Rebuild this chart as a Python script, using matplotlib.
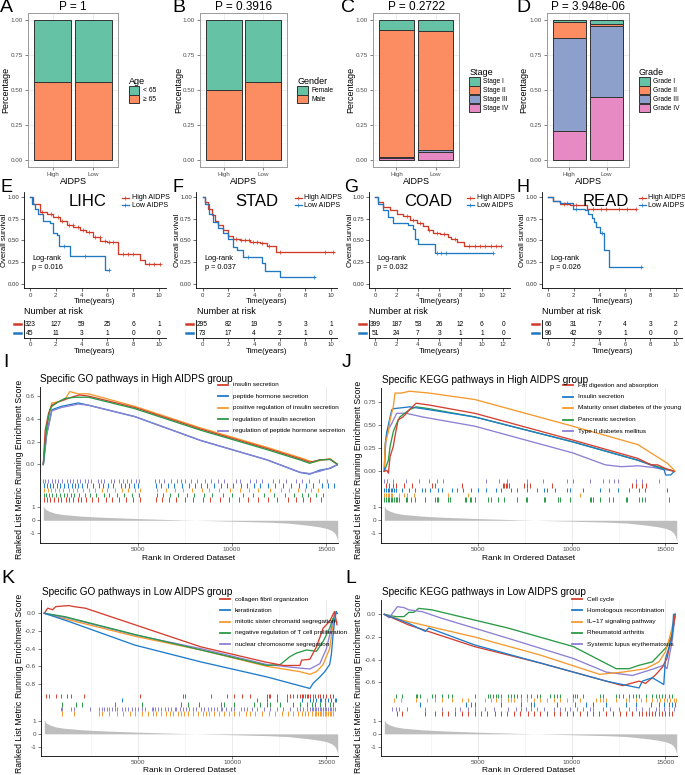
import numpy as np
import matplotlib
matplotlib.use('Agg')
import matplotlib.pyplot as plt
from matplotlib.patches import Patch
from matplotlib.lines import Line2D
import matplotlib.transforms as mtransforms

plt.rcParams['font.family'] = ['Liberation Sans', 'DejaVu Sans']
plt.rcParams['axes.unicode_minus'] = False

# ============================ DATA ============================
groups = ['High', 'Low']
age_levels = ['< 65', '≥ 65']
age_high = [0.44, 0.56]
age_low = [0.44, 0.56]
gender_levels = ['Female', 'Male']
gender_high = [0.50, 0.50]
gender_low = [0.44, 0.56]
stage_levels = ['Stage I', 'Stage II', 'Stage III', 'Stage IV']
stage_high = [0.07, 0.91, 0.005, 0.015]
stage_low = [0.08, 0.85, 0.01, 0.06]
grade_levels = ['Grade I', 'Grade II', 'Grade III', 'Grade IV']
grade_high = [0.015, 0.115, 0.66, 0.21]
grade_low = [0.03, 0.01, 0.51, 0.45]
bar_pvals = ['P = 1', 'P = 0.3916', 'P = 0.2722', 'P = 3.948e-06']

# Kaplan-Meier curves (time in years, survival)
lihc_high_t = [0, 0.26, 0.77, 1.29, 1.80, 2.32, 2.84, 3.35, 3.87, 4.38, 4.90, 5.41, 5.93, 6.83, 8.5, 8.9, 10.1]
lihc_high_s = [1.0, 0.92, 0.826, 0.80, 0.77, 0.72, 0.68, 0.655, 0.617, 0.60, 0.54, 0.495, 0.483, 0.343, 0.274, 0.225, 0.225]
lihc_low_t = [0, 0.13, 0.39, 0.64, 1.03, 1.55, 1.80, 2.11, 2.27, 3.09, 5.80, 6.13]
lihc_low_s = [1.0, 0.92, 0.864, 0.807, 0.723, 0.693, 0.586, 0.56, 0.438, 0.324, 0.16, 0.16]
lihc_high_cens = [0.9, 1.6, 2.2, 2.5, 3.0, 3.3, 3.7, 4.1, 4.6, 5.0, 5.4, 5.8, 6.1, 6.4, 7.2, 7.6, 8.0, 9.2, 9.6, 10.05]
lihc_low_cens = [2.6, 4.3, 6.1]

stad_high_t = [0, 0.18, 0.44, 0.70, 0.96, 1.22, 1.61, 2.0, 2.39, 2.91, 3.69, 4.47, 4.99, 5.71, 10.2]
stad_high_s = [1.0, 0.94, 0.864, 0.788, 0.723, 0.674, 0.617, 0.548, 0.52, 0.50, 0.48, 0.464, 0.437, 0.369, 0.369]
stad_low_t = [0, 0.18, 0.52, 0.83, 1.22, 1.61, 2.0, 2.34, 2.70, 3.12, 4.6, 4.86, 6.03, 8.75]
stad_low_s = [1.0, 0.92, 0.807, 0.712, 0.636, 0.579, 0.52, 0.426, 0.388, 0.305, 0.236, 0.152, 0.076, 0.076]
stad_high_cens = [2.6, 3.0, 3.3, 3.6, 3.9, 4.2, 4.6, 5.2, 6.0, 9.5, 10.15]
stad_low_cens = [3.5, 8.7]

coad_high_t = [0, 0.28, 0.75, 1.38, 2.0, 2.63, 3.25, 3.88, 4.5, 4.97, 5.44, 6.06, 6.84, 7.1, 7.7, 8.3, 11.8]
coad_high_s = [1.0, 0.94, 0.883, 0.845, 0.807, 0.777, 0.738, 0.70, 0.662, 0.624, 0.586, 0.567, 0.533, 0.51, 0.483, 0.438, 0.438]
coad_low_t = [0, 0.28, 0.75, 1.22, 1.69, 3.1, 3.56, 3.72, 4.03, 5.6, 11.06]
coad_low_s = [1.0, 0.92, 0.845, 0.769, 0.70, 0.68, 0.628, 0.52, 0.453, 0.358, 0.358]
coad_high_cens = [3.0, 3.5, 4.2, 5.0, 5.8, 6.4, 7.5, 8.8, 9.3, 9.8, 10.3, 10.8, 11.3, 11.75]
coad_low_cens = [5.8, 6.2, 6.6, 11.0]

read_high_t = [0, 0.39, 0.91, 1.7, 3.0, 6.9]
read_high_s = [1.0, 0.95, 0.92, 0.90, 0.857, 0.857]
read_low_t = [0, 0.39, 0.91, 1.96, 2.87, 3.13, 3.39, 3.58, 3.73, 4.05, 4.39, 4.78, 7.3]
read_low_s = [1.0, 0.95, 0.93, 0.864, 0.853, 0.807, 0.76, 0.712, 0.655, 0.586, 0.388, 0.19, 0.19]
read_high_cens = [1.2, 2.2, 3.5, 4.1, 4.5, 5.5, 6.2, 6.85]
read_low_cens = [1.5, 2.2, 4.2, 7.25]

km_titles = ['LIHC', 'STAD', 'COAD', 'READ']
km_pvals = ['p = 0.016', 'p = 0.037', 'p = 0.032', 'p = 0.026']
risk_times_10 = [0, 2, 4, 6, 8, 10]
risk_times_12 = [0, 2, 4, 6, 8, 10, 12]
lihc_risk_high = [323, 127, 59, 25, 6, 1]
lihc_risk_low = [45, 11, 3, 1, 0, 0]
stad_risk_high = [295, 82, 19, 5, 3, 1]
stad_risk_low = [73, 17, 4, 2, 1, 0]
coad_risk_high = [399, 187, 53, 26, 12, 6, 0]
coad_risk_low = [51, 24, 7, 3, 1, 1, 0]
read_risk_high = [66, 31, 7, 4, 3, 2]
read_risk_low = [96, 42, 9, 1, 0, 0]

# GSEA running enrichment scores (rank, ES)
I_names = ['insulin secretion', 'peptide hormone secretion', 'positive regulation of insulin secretion',
           'regulation of insulin secretion', 'regulation of peptide hormone secretion']
I_rank_orange = [0, 100, 280, 450, 800, 1150, 1400, 1850, 2400, 4850, 8350, 11860, 13600, 14320, 14770, 15200, 15600]
I_es_orange = [0.0, 0.21, 0.42, 0.54, 0.55, 0.57, 0.64, 0.62, 0.62, 0.51, 0.32, 0.15, 0.06, 0.02, 0.04, 0.05, 0.0]
I_rank_red = [0, 100, 280, 450, 800, 1150, 1500, 1900, 2400, 4850, 8350, 11860, 13600, 14120, 14650, 15200, 15600]
I_es_red = [0.0, 0.30, 0.45, 0.52, 0.55, 0.57, 0.59, 0.61, 0.60, 0.50, 0.31, 0.14, 0.05, 0.02, 0.04, 0.045, 0.0]
I_rank_green = [0, 180, 350, 450, 800, 1150, 1670, 2400, 4850, 8350, 11860, 13600, 14120, 14650, 15200, 15600]
I_es_green = [0.0, 0.33, 0.48, 0.51, 0.55, 0.58, 0.59, 0.59, 0.49, 0.30, 0.13, 0.04, 0.01, 0.04, 0.044, 0.0]
I_rank_blue = [0, 180, 350, 450, 960, 1850, 2400, 4850, 8350, 11860, 13600, 14120, 14650, 15200, 15600]
I_es_blue = [0.0, 0.27, 0.40, 0.48, 0.51, 0.54, 0.52, 0.42, 0.21, 0.04, -0.07, -0.085, -0.05, -0.035, 0.0]
I_rank_purple = [0, 180, 350, 450, 960, 1850, 2400, 4850, 8350, 11860, 13600, 14120, 14650, 15200, 15600]
I_es_purple = [0.0, 0.26, 0.39, 0.47, 0.50, 0.53, 0.52, 0.42, 0.21, 0.04, -0.068, -0.08, -0.06, -0.03, 0.0]

J_names = ['Fat digestion and absorption', 'Insulin secretion', 'Maturity onset diabetes of the young',
           'Pancreatic secretion', 'Type II diabetes mellitus']
J_rank_orange = [0, 50, 220, 310, 480, 570, 920, 1350, 1870, 2390, 4830, 10050, 13530, 15100, 15480]
J_es_orange = [0.05, 0.30, 0.43, 0.56, 0.70, 0.85, 0.85, 0.87, 0.86, 0.85, 0.78, 0.49, 0.29, 0.087, 0.01]
J_rank_red = [0, 130, 220, 310, 480, 570, 740, 1000, 1350, 1700, 2390, 4830, 10050, 13530, 14230, 14580, 15010, 15480]
J_es_red = [0.0, 0.01, -0.02, 0.16, 0.27, 0.38, 0.56, 0.59, 0.67, 0.74, 0.72, 0.63, 0.34, 0.14, 0.07, 0.07, 0.03, 0.0]
J_rank_blue = [0, 50, 140, 310, 400, 480, 1350, 2050, 4830, 10050, 13530, 14930, 15010, 15270, 15480]
J_es_blue = [0.0, 0.30, 0.43, 0.59, 0.67, 0.68, 0.70, 0.68, 0.59, 0.32, 0.12, 0.015, -0.04, -0.04, 0.0]
J_rank_green = [0, 220, 310, 480, 660, 830, 1350, 1700, 2390, 4830, 10050, 13530, 14580, 15480]
J_es_green = [0.0, 0.12, 0.27, 0.43, 0.52, 0.59, 0.67, 0.70, 0.68, 0.59, 0.32, 0.12, 0.05, 0.0]
J_rank_purple = [0, 50, 140, 400, 660, 1180, 2050, 4830, 10050, 11790, 12660, 13530, 14400, 15480]
J_es_purple = [0.0, 0.23, 0.43, 0.52, 0.63, 0.63, 0.59, 0.49, 0.20, 0.07, 0.05, 0.06, 0.04, 0.0]

K_names = ['collagen fibril organization', 'keratinization', 'mitotic sister chromatid segregation',
           'negative regulation of T cell proliferation', 'nuclear chromosome segregation']
K_rank_red = [0, 180, 440, 610, 1310, 1580, 2190, 4820, 8330, 11840, 12720, 13590, 13680, 14120, 14470, 14820, 15170, 15430, 15560]
K_es_red = [0.0, 0.057, 0.04, 0.075, 0.087, 0.075, 0.057, -0.13, -0.38, -0.555, -0.59, -0.59, -0.53, -0.52, -0.38, -0.17, -0.09, 0.02, -0.13]
K_rank_blue = [0, 1320, 4820, 8330, 11840, 14120, 14300, 14650, 14910, 15170, 15260, 15350, 15430, 15520, 15560]
K_es_blue = [0.0, -0.094, -0.36, -0.55, -0.72, -0.85, -0.79, -0.72, -0.66, -0.58, -0.47, -0.25, -0.094, 0.02, 0.0]
K_rank_orange = [0, 1320, 4820, 8330, 11840, 13590, 14120, 14470, 14820, 15170, 15350, 15430, 15560]
K_es_orange = [0.0, -0.075, -0.26, -0.415, -0.60, -0.66, -0.69, -0.66, -0.58, -0.40, -0.13, 0.0, 0.0]
K_rank_green = [0, 1140, 1490, 4820, 8330, 11840, 12540, 13060, 13410, 13940, 14470, 14820, 15170, 15350, 15560]
K_es_green = [0.0, -0.04, -0.06, -0.24, -0.415, -0.59, -0.58, -0.49, -0.45, -0.415, -0.43, -0.32, -0.17, -0.057, -0.1]
K_rank_purple = [0, 1320, 4820, 8330, 11840, 13590, 14120, 14650, 15000, 15260, 15430, 15560]
K_es_purple = [0.0, -0.057, -0.245, -0.40, -0.58, -0.62, -0.63, -0.57, -0.40, -0.17, 0.0, 0.0]

L_names = ['Cell cycle', 'Homologous recombination', 'IL\u221217 signaling pathway',
           'Rheumatoid arthritis', 'Systemic lupus erythematosus']
L_rank_purple = [0, 260, 700, 1050, 1310, 2020, 3070, 6580, 10090, 11840, 13240, 14300, 14910, 15080, 15350, 15520]
L_es_purple = [0.0, -0.03, 0.068, 0.06, 0.04, 0.024, -0.035, -0.21, -0.39, -0.51, -0.54, -0.485, -0.45, -0.48, -0.24, 0.0]
L_rank_green = [0, 610, 1050, 1310, 1570, 1840, 2540, 6580, 10090, 12370, 13060, 13590, 14300, 14820, 15080, 15350, 15520]
L_es_green = [0.0, -0.02, -0.02, 0.018, 0.018, 0.053, 0.04, -0.12, -0.285, -0.48, -0.48, -0.45, -0.42, -0.33, -0.285, -0.18, 0.0]
L_rank_orange = [0, 610, 1310, 4820, 8330, 11490, 12720, 13940, 14650, 15000, 15260, 15520]
L_es_orange = [0.0, -0.035, -0.065, -0.20, -0.36, -0.53, -0.51, -0.48, -0.42, -0.33, -0.18, 0.0]
L_rank_red = [0, 1310, 4820, 8330, 11840, 12720, 13590, 13940, 14470, 14820, 15080, 15350, 15520]
L_es_red = [0.0, -0.094, -0.285, -0.43, -0.59, -0.63, -0.59, -0.61, -0.535, -0.47, -0.39, -0.18, 0.0]
L_rank_blue = [0, 1310, 2190, 2370, 4820, 8330, 11840, 13590, 13770, 14300, 14910, 15000, 15350, 15430, 15520]
L_es_blue = [0.0, -0.08, -0.15, -0.12, -0.27, -0.43, -0.59, -0.65, -0.59, -0.56, -0.62, -0.39, -0.21, 0.0, 0.0]

# Gene set hit positions (ranks)
I_hits_purple = [0, 100, 270, 450, 620, 800, 980, 1230, 1410, 1590, 1760, 1930, 2190, 2370, 2550, 2890, 3060, 3240, 3590, 3760, 4030, 4200, 4460, 4640, 4900, 5080, 5900, 6130, 6400, 6760, 7100, 7280, 7500, 7800, 8150, 8580, 8900, 9240, 9600, 10200, 10400, 10950, 11280, 11600, 12150, 12500, 12870, 13400, 13700, 14100, 14600, 15050]
I_hits_blue = [30, 190, 350, 520, 700, 900, 1100, 1320, 1500, 1700, 1850, 2050, 2300, 2650, 2950, 3150, 3450, 3700, 4100, 4350, 4550, 4800, 5000, 5950, 6250, 6600, 6900, 7350, 7700, 8050, 8350, 8700, 9050, 9400, 9750, 10050, 10500, 10800, 11150, 11500, 11900, 12300, 12700, 13100, 13550, 13900, 14300, 14750, 15100, 15400]
I_hits_orange = [60, 250, 420, 640, 850, 1050, 1350, 1550, 1800, 2100, 2400, 2750, 3100, 3400, 3800, 4150, 4500, 4850, 5150, 6050, 6500, 7000, 7400, 7900, 8400, 8800, 9300, 9900, 10400, 10900, 11400, 12000, 12600, 13000, 13500, 13850, 14200, 14550]
I_hits_green = [20, 150, 320, 480, 680, 880, 1080, 1280, 1460, 1640, 1900, 2200, 2500, 2800, 3200, 3500, 3900, 4250, 4700, 5050, 6000, 6350, 6700, 7150, 7600, 8000, 8500, 8950, 9500, 10000, 10600, 11100, 11700, 12250, 12800, 13300, 13700, 14050, 14450, 14800]
I_hits_red = [40, 210, 380, 560, 760, 960, 1180, 1380, 1600, 1820, 2000, 2250, 2600, 2900, 3300, 3650, 4000, 4400, 4750, 5100, 5980, 6300, 6650, 7050, 7500, 7950, 8450, 8850, 9350, 9850, 10350, 10850, 11350, 11900, 12400, 12950, 13400, 13750, 14150, 14700]

J_hits_purple = [0, 170, 440, 1140, 1840, 2370, 2800, 3150, 5430, 6130, 6570, 7620, 8490, 9730, 10080, 10950, 11660, 12010, 12270, 12450, 13410, 13760, 14640]
J_hits_red = [90, 260, 440, 610, 1050, 1490, 2540, 2720, 4120, 6310, 6400, 6490, 6570, 6660, 7450, 7620, 7800, 8940, 13240, 13410, 13760, 13940]
J_hits_blue = [0, 86, 174, 262, 349, 437, 524, 612, 963, 1313, 1664, 2014, 2190, 2453, 2891, 3066, 3592, 3855, 4206, 4644, 4995, 5433, 5959, 6222, 6748, 7098, 7624, 8150, 8500, 8675, 9114, 9728, 9903, 10604, 11481, 12006, 12444, 13058, 13584, 13934, 15074]
J_hits_orange = [0, 86, 174, 262, 349, 437, 787, 1050, 1226, 1576, 3417, 4469, 10430]
J_hits_green = [0, 86, 174, 262, 349, 437, 524, 612, 700, 787, 1138, 1226, 1401, 1664, 2190, 2716, 2803, 2891, 3417, 3505, 4293, 4381, 4556, 4644, 4820, 5521, 5696, 6047, 6397, 7098, 7536, 7624, 8500, 8588, 9289, 9377, 9903, 10955, 11043, 11130, 11481, 12006, 12182, 12883, 12970, 13584, 13760, 13934, 15162]

K_hits_red = [88, 263, 614, 877, 1228, 1403, 2105, 5087, 7367, 7455, 8858, 9735, 10086, 10524, 10963, 11840, 11927, 12015, 12366, 12892, 13067, 13243, 13418, 13594, 13681, 13769, 13857, 13944, 14032, 14120, 14295, 14383, 14558, 14646, 14821, 14997, 15172, 15348]
K_hits_blue = [4122, 11313, 11840, 12366, 12892, 13681, 14120, 14295, 14471, 14646, 14734, 14909, 15084, 15260, 15435, 15523]
K_hits_green = [965, 1666, 2017, 3771, 5174, 7279, 7630, 8244, 9384, 9559, 10086, 11138, 11489, 11840, 12015, 12541, 13243, 13594, 13944, 14207, 14383, 14646, 14909, 15172, 15348]
K_hits_purple = [877, 965, 1403, 1578, 2455, 2894, 3069, 3157, 3332, 3420, 3595, 3771, 3858, 4121, 4297, 4472, 4648, 4823, 4998, 5174, 5349, 5700, 5788, 5876, 6051, 6226, 6402, 6577, 6752, 6928, 7016, 7191, 7366, 7542, 7717, 7893, 8068, 8331, 8506, 8682, 8857, 9033, 9208, 9384, 9471, 9647, 9910, 10085, 10436, 10611, 10787, 11050, 11313, 11664, 12015, 12365, 12716, 13067, 13418, 13593, 13768, 13944, 14119, 14207, 14295, 14382, 14470, 14558, 14645, 14733, 14821, 14908, 14996, 15084, 15172, 15259, 15347, 15435]
K_hits_orange = [965, 1578, 2894, 3069, 3420, 3858, 4209, 4560, 4823, 5174, 5525, 5788, 5963, 6226, 6490, 6665, 6840, 7103, 7279, 7454, 7630, 7893, 8156, 8419, 8594, 8770, 9033, 9296, 9559, 9822, 10085, 10348, 10699, 10962, 11225, 11576, 11927, 12278, 12628, 12979, 13242, 13506, 13681, 13856, 14032, 14207, 14382, 14470, 14558, 14645, 14733, 14821, 14908, 14996, 15084, 15172, 15259, 15347]

L_hits_green = [613, 964, 1666, 1754, 1929, 2543, 2718, 3069, 3420, 3595, 4823, 5525, 5665, 5805, 5945, 6086, 6226, 6577, 6752, 6928, 7103, 7279, 7629, 7805, 8156, 8331, 8857, 9033, 9208, 9384, 10085, 10173, 10261, 10611, 11488, 11664, 12365, 12541, 12716, 13067, 13242, 13418, 13593, 13944, 14295, 14470, 14645, 14821, 14996, 15172, 15347]
L_hits_orange = [526, 877, 1666, 2280, 2718, 3069, 3595, 4121, 4472, 5349, 5700, 5963, 6226, 6577, 6752, 6928, 7279, 7629, 7980, 8331, 8682, 9033, 9384, 9734, 10085, 10436, 11313, 11488, 11664, 11839, 12365, 12891, 13067, 13418, 13681, 13944, 14295, 14558, 14733, 14908, 15084, 15259, 15435, 15540]
L_hits_blue = [1929, 4384, 4648, 4823, 6226, 7279, 7805, 7980, 9208, 10173, 10787, 11138, 11839, 12891, 13418, 14207, 14645, 14908, 15172, 15347, 15523]
L_hits_purple = [438, 613, 789, 1227, 2192, 3069, 3771, 4034, 4472, 4823, 5349, 5876, 6577, 7015, 7279, 7542, 7805, 8156, 8506, 9033, 9384, 9647, 9910, 10261, 10611, 10962, 11138, 11664, 12015, 12541, 13067, 13418, 13768, 14119, 14470, 14645, 14908, 15172, 15435]
L_hits_red = [700, 960, 2190, 2720, 3070, 3400, 3790, 4120, 4450, 4830, 5180, 5500, 5880, 6230, 6560, 6940, 7260, 7640, 7980, 8310, 8690, 9030, 9370, 9750, 10090, 10420, 10800, 11140, 11470, 11850, 12180, 12560, 12890, 13230, 13600, 13770, 13950, 14110, 14300, 14460, 14650, 14830, 14990, 15170, 15350]

# Ranked list metric
metric_rank = [1, 100, 300, 600, 1000, 2000, 3000, 5000, 7500, 10000, 12000, 13000, 14000, 14600, 15000, 15300, 15450, 15550, 15600]
metric_value = [1.1, 0.85, 0.7, 0.55, 0.45, 0.32, 0.24, 0.13, 0.02, -0.07, -0.15, -0.22, -0.38, -0.5, -0.62, -0.8, -1.0, -1.3, -1.65]

# ============================ STYLE ============================
SET2 = ['#66C2A5', '#FC8D62', '#8DA0CB', '#E78AC3']
KM_RED = '#D03A27'
KM_BLUE = '#1F78C1'
G_RED, G_BLUE, G_ORANGE, G_GREEN, G_PURPLE = '#D43F2F', '#1F7CC9', '#F59A2E', '#2A9A48', '#8C80D4'
TICKC = '#4D4D4D'

W, H = 685, 775
fig = plt.figure(figsize=(W / 100, H / 100), dpi=100)


def add_ax(x0, y0, x1, y1):
    return fig.add_axes([x0 / W, 1 - y1 / H, (x1 - x0) / W, (y1 - y0) / H])


def ftext(x, y, s, **kw):
    return fig.text(x / W, 1 - y / H, s, **kw)


def fline(x0, x1, y, **kw):
    fig.add_artist(Line2D([x0 / W, x1 / W], [1 - y / H, 1 - y / H], transform=fig.transFigure, **kw))


def letter(x, y, s, size=14):
    ftext(x, y, s, fontsize=size, ha='left', va='top')


def place_ylabel(ax, x0, x1, xc):
    # anchor is right edge of the rotated label
    ax.yaxis.set_label_coords((xc + 3.2 - x0) / (x1 - x0), 0.5)


def place_xlabel(ax, y0, y1, yc):
    ax.xaxis.set_label_coords(0.5, -(yc - 3.5 - y1) / (y1 - y0))


# ============================ BAR PANELS ============================
def bar_panel(rect, levels, high, low, legend_title, pval, ylab_x):
    ax = add_ax(*rect)
    data = np.array([high, low])
    xs = np.arange(1, 3)
    for k in range(len(levels)):
        bottoms = data[:, k + 1:].sum(axis=1)
        ax.bar(xs, data[:, k], bottom=bottoms, width=0.9, color=SET2[k],
               edgecolor='#333333', linewidth=0.7, zorder=3, label=levels[k])
    ax.set_xlim(0.4, 2.6)
    ax.set_ylim(-0.05, 1.05)
    ax.set_xticks(xs)
    ax.set_xticklabels(groups)
    ax.set_yticks([0, 0.25, 0.5, 0.75, 1.0])
    ax.set_yticklabels(['0.00', '0.25', '0.50', '0.75', '1.00'])
    ax.set_yticks([0.125, 0.375, 0.625, 0.875], minor=True)
    ax.grid(True, which='major', color='#EBEBEB', lw=0.6, zorder=0)
    ax.grid(True, which='minor', axis='y', color='#F4F4F4', lw=0.4, zorder=0)
    ax.tick_params(which='major', labelsize=4.5, colors=TICKC, length=2, width=0.5, pad=1.5)
    ax.tick_params(which='minor', length=0)
    for sp in ax.spines.values():
        sp.set_color('#9A9A9A')
        sp.set_linewidth(0.7)
    ax.set_xlabel('AIDPS', fontsize=6.5)
    ax.set_ylabel('Percentage', fontsize=6.5)
    place_ylabel(ax, rect[0], rect[2], ylab_x)
    place_xlabel(ax, rect[1], rect[3], 181)
    ax.set_title(pval, fontsize=8.5, pad=2.5)
    handles = [Patch(facecolor=SET2[k], edgecolor='#333333', linewidth=0.7, label=levels[k])
               for k in range(len(levels))]
    ax.legend(handles=handles, title=legend_title, loc='center left', bbox_to_anchor=(1.08, 0.5),
              frameon=False, fontsize=4.8, title_fontsize=6.5, handlelength=1.6, handleheight=1.6,
              labelspacing=0.05, handletextpad=0.5, borderpad=0, alignment='left')
    return ax


bar_panel((28, 13, 118, 167), age_levels, age_high, age_low, 'Age', bar_pvals[0], 7)
bar_panel((200, 13, 287, 167), gender_levels, gender_high, gender_low, 'Gender', bar_pvals[1], 180)
bar_panel((373, 13, 459, 167), stage_levels, stage_high, stage_low, 'Stage', bar_pvals[2], 352)
bar_panel((547, 13, 629, 167), grade_levels, grade_high, grade_low, 'Grade', bar_pvals[3], 525)
letter(0, -1, 'A')
letter(172, -1, 'B')
letter(341, -1, 'C')
letter(516, -1, 'D')


# ============================ KM PANELS ============================
def step_value(t, s, c):
    idx = np.searchsorted(np.asarray(t), c, side='right') - 1
    return np.asarray(s)[idx]


def km_panel(x0, x1, xlim, xticks, title, title_x, leg_x, ylab_x, curves, pval, risk_times, risk_high, risk_low):
    ax = add_ax(x0, 192.3, x1, 288.4)
    for (t, s, cens, col) in curves:
        ax.plot(t, s, drawstyle='steps-post', color=col, lw=0.95, zorder=3)
        cs = step_value(t, s, cens)
        ax.plot(cens, cs, ls='none', marker='+', ms=3, mew=0.5, color=col, zorder=4)
    ax.set_xlim(*xlim)
    ax.set_ylim(-0.05, 1.05)
    ax.set_xticks(xticks)
    ax.set_yticks([0, 0.25, 0.5, 0.75, 1.0])
    ax.set_yticklabels(['0.00', '0.25', '0.50', '0.75', '1.00'])
    ax.tick_params(labelsize=4.3, length=2, width=0.5, pad=1.2, colors='#333333')
    for sp in ['top', 'right']:
        ax.spines[sp].set_visible(False)
    for sp in ['left', 'bottom']:
        ax.spines[sp].set_linewidth(0.6)
    ax.set_xlabel('Time(years)', fontsize=5.6)
    ax.set_ylabel('Overall survival', fontsize=5.6)
    place_ylabel(ax, x0, x1, ylab_x)
    place_xlabel(ax, 192.3, 288.4, 301.5)
    ax.text(0.06, 0.31, 'Log-rank', transform=ax.transAxes, fontsize=5.3, ha='left', va='center')
    ax.text(0.06, 0.215, pval, transform=ax.transAxes, fontsize=5.3, ha='left', va='center')
    ftext(title_x, 202, title, fontsize=12, ha='center', va='center')
    # legend
    for i, (lab, col) in enumerate([('High AIDPS', KM_RED), ('Low AIDPS', KM_BLUE)]):
        yy = 197.5 + i * 7.8
        fline(leg_x, leg_x + 6.5, yy, color=col, lw=0.9)
        fig.add_artist(Line2D([(leg_x + 3.25) / W], [1 - yy / H], transform=fig.transFigure,
                              marker='+', ms=2.5, mew=0.5, color=col, ls='none'))
        ftext(leg_x + 9.5, yy, lab, fontsize=5.1, ha='left', va='center')
    # risk table
    ftext(x0 + 0.5, 312, 'Number at risk', fontsize=6.5, ha='left', va='center')
    rt = add_ax(x0, 319.5, x1, 337.5)
    rt.set_xlim(*xlim)
    rt.set_ylim(0.5, 2.5)
    for tt, nh, nl in zip(risk_times, risk_high, risk_low):
        rt.text(tt, 2, str(nh), fontsize=4.8, ha='center', va='center')
        rt.text(tt, 1, str(nl), fontsize=4.8, ha='center', va='center')
    rt.set_xticks(xticks)
    rt.set_yticks([])
    rt.tick_params(labelsize=4.3, length=2, width=0.5, pad=1.2, colors='#333333')
    for sp in ['top', 'right']:
        rt.spines[sp].set_visible(False)
    for sp in ['left', 'bottom']:
        rt.spines[sp].set_linewidth(0.6)
    rt.set_xlabel('Time(years)', fontsize=5.6)
    place_xlabel(rt, 319.5, 337.5, 351)
    tr = mtransforms.blended_transform_factory(fig.transFigure, rt.transData)
    for yv, col in [(2, KM_RED), (1, KM_BLUE)]:
        rt.add_line(Line2D([(x0 - 10) / W, (x0 - 3) / W], [yv, yv], transform=tr, color=col,
                           lw=1.8, clip_on=False))
    return ax


km_panel(23.5, 165.5, (-0.5, 10.5), [0, 2, 4, 6, 8, 10], km_titles[0], 88, 122, 5,
         [(lihc_high_t, lihc_high_s, lihc_high_cens, KM_RED), (lihc_low_t, lihc_low_s, lihc_low_cens, KM_BLUE)],
         km_pvals[0], risk_times_10, lihc_risk_high, lihc_risk_low)
km_panel(196.3, 337.4, (-0.5, 10.5), [0, 2, 4, 6, 8, 10], km_titles[1], 257, 295, 177.5,
         [(stad_high_t, stad_high_s, stad_high_cens, KM_RED), (stad_low_t, stad_low_s, stad_low_cens, KM_BLUE)],
         km_pvals[1], risk_times_10, stad_risk_high, stad_risk_low)
km_panel(368.9, 509.7, (-0.6, 12.6), [0, 2, 4, 6, 8, 10, 12], km_titles[2], 428, 467, 350.5,
         [(coad_high_t, coad_high_s, coad_high_cens, KM_RED), (coad_low_t, coad_low_s, coad_low_cens, KM_BLUE)],
         km_pvals[2], risk_times_12, coad_risk_high, coad_risk_low)
km_panel(541.9, 682.4, (-0.5, 10.5), [0, 2, 4, 6, 8, 10], km_titles[3], 606, 639, 522.5,
         [(read_high_t, read_high_s, read_high_cens, KM_RED), (read_low_t, read_low_s, read_low_cens, KM_BLUE)],
         km_pvals[3], risk_times_10, read_risk_high, read_risk_low)
letter(0, 179, 'E', 13)
letter(172, 179, 'F', 13)
letter(344, 179, 'G', 13)
letter(516, 179, 'H', 13)


# ============================ GSEA PANELS ============================
def vgrid(ax):
    for r in [5000, 10000, 15000]:
        ax.axvline(r, color='#EBEBEB', lw=0.7, zorder=0)
    for r in [2500, 7500, 12500]:
        ax.axvline(r, color='#F2F2F2', lw=0.45, zorder=0)


def gsea_panel(x0, x1, ytop, ysplit1, ysplit2, ybot, es_ylim, es_ticks, es_labels, curves,
               rug_rows, title, names, legend_cols, leg_x, leg_y0, leg_dy, ylab_x, xlab_y):
    xl = (-175, 15615)
    ax = add_ax(x0, ytop, x1, ysplit1)
    vgrid(ax)
    for (r, e, col) in curves:
        ax.plot(r, e, color=col, lw=0.95, zorder=3)
    ax.set_xlim(*xl)
    ax.set_ylim(*es_ylim)
    ax.set_xticks([])
    ax.set_yticks(es_ticks)
    ax.set_yticklabels(es_labels)
    ax.tick_params(labelsize=4.6, colors=TICKC, length=2, width=0.5, pad=1.5)
    for sp in ['top', 'right', 'bottom']:
        ax.spines[sp].set_visible(False)
    ax.spines['left'].set_linewidth(0.6)
    ax.set_ylabel('Running Enrichment Score', fontsize=6.2)
    place_ylabel(ax, x0, x1, ylab_x)
    ftext(x0 + 0.5, ytop - 8, title, fontsize=7.2, ha='left', va='center')
    # rug
    rg = add_ax(x0, ysplit1, x1, ysplit2)
    vgrid(rg)
    nrow = len(rug_rows)
    for i, (hits, col) in enumerate(rug_rows):
        top = nrow - i
        rg.vlines(hits, top - 1, top - 0.05, color=col, lw=0.7, zorder=3)
    rg.set_xlim(*xl)
    rg.set_ylim(-0.3, nrow + 0.3)
    rg.set_xticks([])
    rg.set_yticks([])
    for sp in ['top', 'right', 'bottom']:
        rg.spines[sp].set_visible(False)
    rg.spines['left'].set_linewidth(0.6)
    # ranked list
    rk = add_ax(x0, ysplit2, x1, ybot)
    vgrid(rk)
    rk.fill_between(metric_rank, metric_value, 0, color='#BEBEBE', lw=0, zorder=2)
    rk.set_xlim(*xl)
    rk.set_ylim(-1.75, 1.33)
    rk.set_yticks([-1, 0, 1])
    rk.set_yticklabels(['-1', '0', '1'])
    rk.set_xticks([5000, 10000, 15000])
    rk.tick_params(labelsize=4.6, colors=TICKC, length=2, width=0.5, pad=1.2)
    for sp in ['top', 'right']:
        rk.spines[sp].set_visible(False)
    for sp in ['left', 'bottom']:
        rk.spines[sp].set_linewidth(0.6)
    rk.set_ylabel('Ranked List Metric', fontsize=6.2)
    rk.set_xlabel('Rank in Ordered Dataset', fontsize=6.0)
    place_ylabel(rk, x0, x1, ylab_x)
    place_xlabel(rk, ysplit2, ybot, xlab_y)
    # legend
    for i, (nm, col) in enumerate(zip(names, legend_cols)):
        yy = leg_y0 + i * leg_dy
        fline(leg_x, leg_x + 10, yy, color=col, lw=1.3)
        ftext(leg_x + 15, yy, nm, fontsize=4.6, ha='left', va='center')


gsea_panel(40, 338, 387, 477, 503, 543, (-0.11, 0.68), [0, 0.2, 0.4, 0.6], ['0.0', '0.2', '0.4', '0.6'],
           [(I_rank_orange, I_es_orange, G_ORANGE), (I_rank_red, I_es_red, G_RED),
            (I_rank_blue, I_es_blue, G_BLUE), (I_rank_purple, I_es_purple, G_PURPLE),
            (I_rank_green, I_es_green, G_GREEN)],
           [(I_hits_purple, G_PURPLE), (I_hits_blue, G_BLUE), (I_hits_orange, G_ORANGE),
            (I_hits_green, G_GREEN), (I_hits_red, G_RED)],
           'Specific GO pathways in High AIDPS group', I_names,
           [G_RED, G_BLUE, G_ORANGE, G_GREEN, G_PURPLE], 218, 384.7, 11.5, 21, 558)

gsea_panel(381, 677, 388, 477, 503, 543, (-0.062, 0.905), [0, 0.25, 0.5, 0.75], ['0.00', '0.25', '0.50', '0.75'],
           [(J_rank_purple, J_es_purple, G_PURPLE), (J_rank_green, J_es_green, G_GREEN),
            (J_rank_blue, J_es_blue, G_BLUE), (J_rank_red, J_es_red, G_RED),
            (J_rank_orange, J_es_orange, G_ORANGE)],
           [(J_hits_purple, G_PURPLE), (J_hits_red, G_RED), (J_hits_blue, G_BLUE),
            (J_hits_orange, G_ORANGE), (J_hits_green, G_GREEN)],
           'Specific KEGG pathways in High AIDPS group', J_names,
           [G_RED, G_BLUE, G_ORANGE, G_GREEN, G_PURPLE], 563, 385, 11.5, 360, 558)

gsea_panel(41, 338, 600, 692, 717, 756, (-0.89, 0.15), [-0.8, -0.6, -0.4, -0.2, 0.0],
           ['-0.8', '-0.6', '-0.4', '-0.2', '0.0'],
           [(K_rank_orange, K_es_orange, G_ORANGE), (K_rank_purple, K_es_purple, G_PURPLE),
            (K_rank_green, K_es_green, G_GREEN), (K_rank_red, K_es_red, G_RED),
            (K_rank_blue, K_es_blue, G_BLUE)],
           [(K_hits_red, G_RED), (K_hits_blue, G_BLUE), (K_hits_green, G_GREEN),
            (K_hits_purple, G_PURPLE), (K_hits_orange, G_ORANGE)],
           'Specific GO pathways in Low AIDPS group', K_names,
           [G_RED, G_BLUE, G_ORANGE, G_GREEN, G_PURPLE], 220, 599, 11.3, 21, 771)

gsea_panel(381, 677, 600, 692, 717, 756, (-0.686, 0.127), [-0.6, -0.4, -0.2, 0.0],
           ['-0.6', '-0.4', '-0.2', '0.0'],
           [(L_rank_green, L_es_green, G_GREEN), (L_rank_purple, L_es_purple, G_PURPLE),
            (L_rank_orange, L_es_orange, G_ORANGE), (L_rank_red, L_es_red, G_RED),
            (L_rank_blue, L_es_blue, G_BLUE)],
           [(L_hits_green, G_GREEN), (L_hits_orange, G_ORANGE), (L_hits_blue, G_BLUE),
            (L_hits_purple, G_PURPLE), (L_hits_red, G_RED)],
           'Specific KEGG pathways in Low AIDPS group', L_names,
           [G_RED, G_BLUE, G_ORANGE, G_GREEN, G_PURPLE], 572, 599, 11.3, 360, 771)

letter(3, 354, 'I')
letter(342, 354, 'J')
letter(1, 570, 'K')
letter(345, 570, 'L')

fig.savefig('out.png', dpi=100)
